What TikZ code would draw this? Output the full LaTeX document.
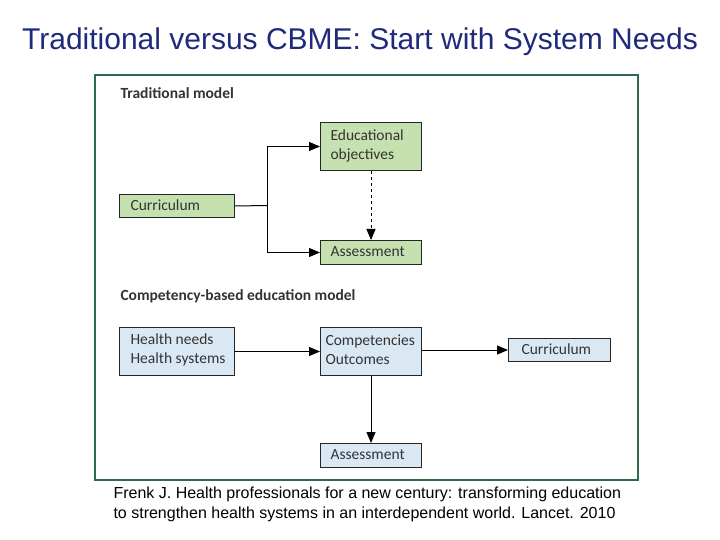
\documentclass[tikz,border=0pt]{standalone}
\usepackage{fontspec}
\setmainfont{Liberation Sans}
\newfontfamily\boxfont{Carlito}
\usetikzlibrary{arrows.meta}
\definecolor{frame}{HTML}{2E6B4A}
\definecolor{gfill}{HTML}{C6E1B0}
\definecolor{bfill}{HTML}{DAE8F4}
\definecolor{tblue}{HTML}{1F2A7A}
\tikzset{bt/.style={anchor=west,align=left,font=\boxfont\fontsize{15.5}{19}\selectfont,text=black!80}}
\begin{document}
\begin{tikzpicture}[x=1pt,y=-1pt,
  box/.style={draw=black!85,line width=1pt,anchor=north west,inner sep=0pt},
  gb/.style={box,fill=gfill}, bb/.style={box,fill=bfill},
  arr/.style={line width=1pt,-{Triangle[length=11pt,width=9pt]}},
  hd/.style={anchor=west,font=\boxfont\bfseries\fontsize{15.5}{17}\selectfont,text=black!80}]
\useasboundingbox (0,0) rectangle (720,540);
\node[text=tblue] (title) at (360,42) {\fontsize{30}{34}\selectfont Traditional versus CBME: Start with System Needs};
\draw[frame,line width=1.2pt] (95,75) rectangle (638,480);
\node[hd] (h1) at (117,93) {Traditional model};
\node[hd] (h2) at (117,296) {Competency-based education model};
\node[gb,minimum width=101pt,minimum height=48pt] (edu) at (320,122) {};
\node[bt] at (327,146) {Educational\\objectives};
\node[gb,minimum width=115pt,minimum height=23pt] (cur1) at (119,194) {};
\node[bt] at (127,205.5) {Curriculum};
\node[gb,minimum width=101pt,minimum height=24pt] (as1) at (320,240) {};
\node[bt] at (327,252) {Assessment};
\node[bb,minimum width=115pt,minimum height=48pt] (hn) at (119,327) {};
\node[bt] at (127,350) {Health needs\\Health systems};
\node[bb,minimum width=101pt,minimum height=48pt] (comp) at (320,327) {};
\node[bt] at (322,350) {Competencies\\Outcomes};
\node[bb,minimum width=102pt,minimum height=23pt] (cur2) at (508,338) {};
\node[bt] at (518,349.5) {Curriculum};
\node[bb,minimum width=101pt,minimum height=24pt] (as2) at (320,443) {};
\node[bt] at (327,455) {Assessment};
\coordinate (br) at (267,205.5);
\draw[line width=1pt] (cur1.east) -- (br);
\draw[arr] (br) |- (edu.west);
\draw[arr] (br) |- (as1.west);
\draw[arr,dashed] (edu.south) -- (as1.north);
\draw[arr] (hn.east) -- (comp.west);
\draw[arr] (comp.east |- cur2.west) -- (cur2.west);
\draw[arr] (comp.south) -- (as2.north);
\node[anchor=north west,align=left,font=\fontsize{16}{20}\selectfont] (cite) at (110,483) {Frenk J. Health professionals for a new century: transforming education\\to strengthen health systems in an interdependent world. Lancet. 2010};
\end{tikzpicture}
\end{document}
